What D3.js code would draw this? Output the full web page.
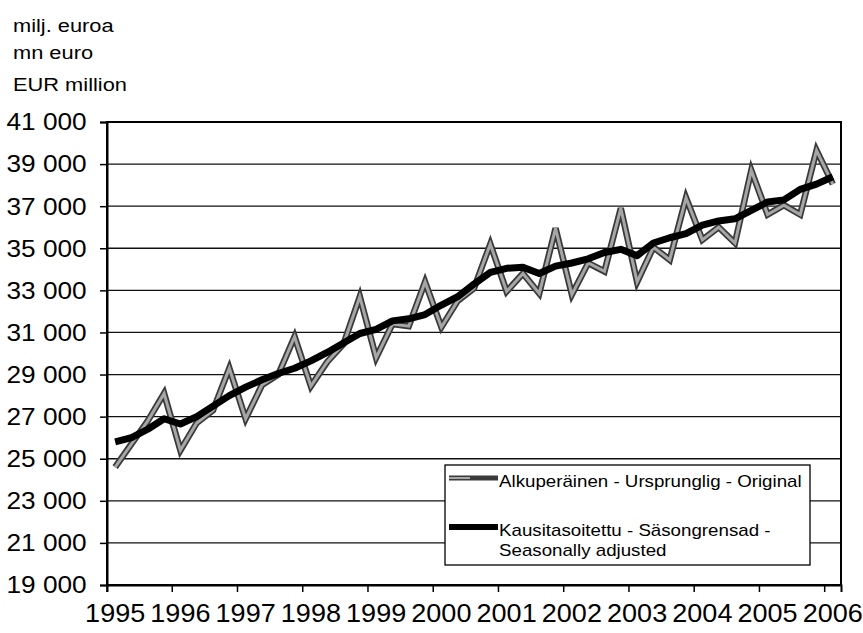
<!DOCTYPE html>
<html>
<head>
<meta charset="utf-8">
<script src="https://cdn.jsdelivr.net/npm/d3@7"></script>
<style>
  html, body { margin: 0; padding: 0; background: #fff; }
  svg { display: block; }
  text { font-family: "Liberation Sans", Arial, sans-serif; fill: #000; }
</style>
</head>
<body>
<svg id="chart" width="863" height="633"></svg>
<script>
// ---- data ----
const quarters = [
  "1995Q1","1995Q2","1995Q3","1995Q4",
  "1996Q1","1996Q2","1996Q3","1996Q4",
  "1997Q1","1997Q2","1997Q3","1997Q4",
  "1998Q1","1998Q2","1998Q3","1998Q4",
  "1999Q1","1999Q2","1999Q3","1999Q4",
  "2000Q1","2000Q2","2000Q3","2000Q4",
  "2001Q1","2001Q2","2001Q3","2001Q4",
  "2002Q1","2002Q2","2002Q3","2002Q4",
  "2003Q1","2003Q2","2003Q3","2003Q4",
  "2004Q1","2004Q2","2004Q3","2004Q4",
  "2005Q1","2005Q2","2005Q3","2005Q4",
  "2006Q1"
];
const yearLabels = ["1995","1996","1997","1998","1999","2000","2001","2002","2003","2004","2005","2006"];
const original = [
  24600, 25700, 26800, 28100,
  25400, 26700, 27300, 29300,
  26900, 28500, 29000, 30800,
  28450, 29600, 30450, 32700,
  29800, 31400, 31300, 33400,
  31250, 32500, 33100, 35200,
  32950, 33800, 32850, 35950,
  32800, 34300, 33900, 36900,
  33400, 35050, 34450, 37400,
  35400, 36000, 35250, 38700,
  36600, 37050, 36600, 39650,
  38050
];
const seasonallyAdjusted = [
  25800, 26000, 26400, 26900,
  26650, 27000, 27500, 28000,
  28400, 28750, 29050, 29300,
  29650, 30050, 30500, 30950,
  31150, 31550, 31650, 31850,
  32300, 32700, 33300, 33850,
  34050, 34100, 33800, 34150,
  34300, 34500, 34800, 34950,
  34650, 35250, 35500, 35700,
  36100, 36300, 36400, 36800,
  37200, 37300, 37800, 38050,
  38400
];
const yTicks = [19000, 21000, 23000, 25000, 27000, 29000, 31000, 33000, 35000, 37000, 39000, 41000];
const unitLabels = ["milj. euroa", "mn euro", "EUR million"];
const legendLabels = [
  ["Alkuperäinen - Ursprunglig - Original"],
  ["Kausitasoitettu - Säsongrensad -", "Seasonally adjusted"]
];

// ---- layout ----
const svg = d3.select("#chart");
const pLeft = 107, pRight = 841, pTop = 122, pBottom = 585;

const x = d3.scaleBand().domain(quarters).range([pLeft, pRight]).padding(0);
const bw = x.bandwidth();
const cx = q => x(q) + bw / 2;
const y = d3.scaleLinear().domain([19000, 41000]).range([pBottom, pTop]);

const fmt = d3.formatLocale({decimal: ",", thousands: "\u00a0", grouping: [3], currency: ["", ""]}).format(",d");

// unit title
const unitBase = [32, 58.5, 91];
unitLabels.forEach((t, i) => {
  svg.append("text")
    .attr("transform", `translate(13, ${unitBase[i]}) scale(1.18,1)`)
    .style("font-size", "18.5px")
    .text(t);
});

// gridlines
svg.append("g")
  .selectAll("line")
  .data(yTicks)
  .join("line")
  .attr("x1", pLeft).attr("x2", pRight)
  .attr("y1", d => y(d)).attr("y2", d => y(d))
  .attr("stroke", "#111").attr("stroke-width", 1.3);

// plot frame
svg.append("rect")
  .attr("x", pLeft).attr("y", pTop)
  .attr("width", pRight - pLeft).attr("height", pBottom - pTop)
  .attr("fill", "none").attr("stroke", "#000").attr("stroke-width", 2);

// y axis
const yAxis = svg.append("g")
  .attr("transform", `translate(${pLeft},0)`)
  .call(d3.axisLeft(y).tickValues(yTicks).tickSize(7).tickPadding(12).tickFormat(fmt));
yAxis.select(".domain").attr("stroke", "#000").attr("stroke-width", 2);
yAxis.selectAll(".tick line").attr("stroke", "#000").attr("stroke-width", 1.5);
yAxis.selectAll(".tick text")
  .style("font-size", "24.5px")
  .style("font-family", '"Liberation Sans", Arial, sans-serif')
  .attr("fill", "#000")
  .attr("transform", "scale(1.07,1)");

// x axis
const firstQuarters = quarters.filter((q, i) => i % 4 === 0);
const xAxis = svg.append("g")
  .attr("transform", `translate(0,${pBottom})`)
  .call(d3.axisBottom(x).tickValues(firstQuarters).tickSize(7).tickPadding(12)
    .tickFormat((q, i) => yearLabels[i]));
xAxis.select(".domain").attr("stroke", "#000").attr("stroke-width", 2);
xAxis.selectAll(".tick line")
  .attr("x1", -bw / 2).attr("x2", -bw / 2)
  .attr("stroke", "#000").attr("stroke-width", 1.5);
xAxis.selectAll(".tick text")
  .style("font-size", "25.5px")
  .style("font-family", '"Liberation Sans", Arial, sans-serif')
  .attr("fill", "#000")
  .attr("transform", "scale(1.06,1)");

// lines
const lineGen = d3.line().x((d, i) => cx(quarters[i])).y(d => y(d));
const plot = svg.append("g");
plot.append("path").datum(original).attr("d", lineGen)
  .attr("fill", "none").attr("stroke", "#3a3a3a").attr("stroke-width", 6.5)
  .attr("stroke-linejoin", "miter").attr("stroke-miterlimit", 4);
plot.append("path").datum(original).attr("d", lineGen)
  .attr("fill", "none").attr("stroke", "#a6a6a6").attr("stroke-width", 3)
  .attr("stroke-linejoin", "miter").attr("stroke-miterlimit", 4);
plot.append("path").datum(seasonallyAdjusted).attr("d", lineGen)
  .attr("fill", "none").attr("stroke", "#000").attr("stroke-width", 7)
  .attr("stroke-linejoin", "round");

// legend
const lg = svg.append("g");
lg.append("rect")
  .attr("x", 445).attr("y", 465).attr("width", 365).attr("height", 100)
  .attr("fill", "#fff").attr("stroke", "#000").attr("stroke-width", 1.3);
lg.append("line").attr("x1", 449).attr("x2", 498).attr("y1", 478).attr("y2", 478)
  .attr("stroke", "#3a3a3a").attr("stroke-width", 5);
lg.append("line").attr("x1", 449).attr("x2", 470).attr("y1", 478).attr("y2", 478)
  .attr("stroke", "#a6a6a6").attr("stroke-width", 2);
lg.append("line").attr("x1", 449).attr("x2", 498).attr("y1", 527).attr("y2", 527)
  .attr("stroke", "#000").attr("stroke-width", 6);
const legendBase = [[487], [535.5, 555.5]];
legendLabels.forEach((lines, k) => {
  lines.forEach((t, j) => {
    lg.append("text")
      .attr("transform", `translate(499, ${legendBase[k][j]}) scale(1.17,1)`)
      .style("font-size", "16px")
      .text(t);
  });
});
</script>
</body>
</html>
